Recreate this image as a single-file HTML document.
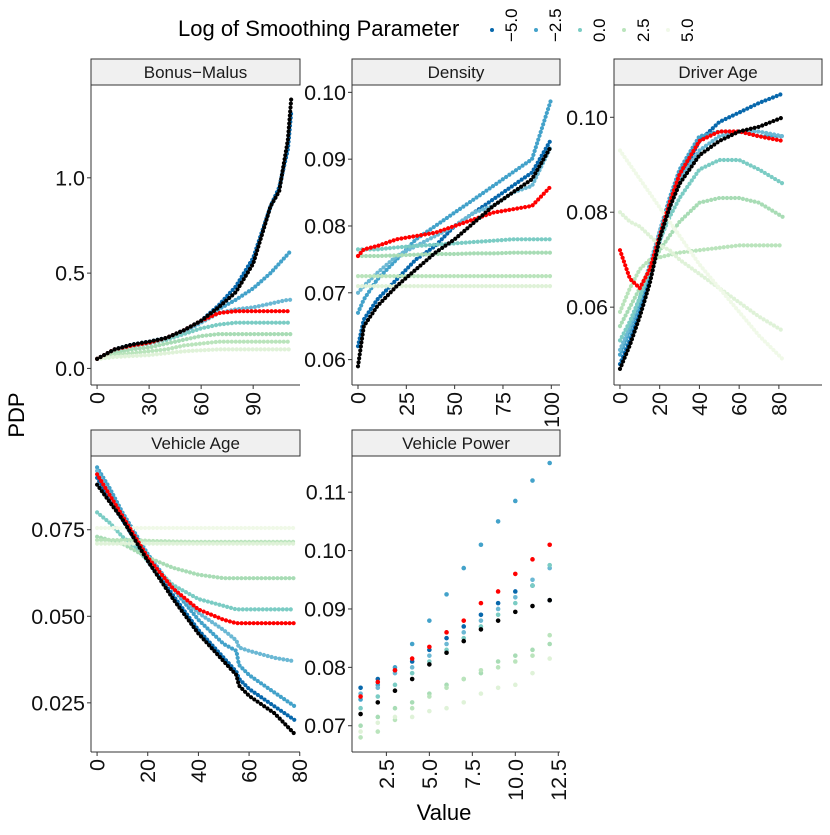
<!DOCTYPE html>
<html><head><meta charset="utf-8"><style>
body{margin:0;background:#fff;font-family:"Liberation Sans",sans-serif}
svg text{font-family:"Liberation Sans",sans-serif}
</style></head><body>
<svg id="c" width="830" height="830" xmlns="http://www.w3.org/2000/svg">
<rect width="830" height="830" fill="#fff"/>
<g>
<text x="178" y="36" font-size="22">Log of Smoothing Parameter</text>
<circle cx="492" cy="30" r="2" fill="#0868ac"/>
<circle cx="536" cy="30" r="2" fill="#43a2ca"/>
<circle cx="580" cy="30" r="2" fill="#7bccc4"/>
<circle cx="624" cy="30" r="2" fill="#bae4bc"/>
<circle cx="668" cy="30" r="2" fill="#f0f9e8"/>
<text transform="translate(517,42) rotate(-90)" font-size="17">−5.0</text>
<text transform="translate(561,42) rotate(-90)" font-size="17">−2.5</text>
<text transform="translate(605,42) rotate(-90)" font-size="17">0.0</text>
<text transform="translate(649,42) rotate(-90)" font-size="17">2.5</text>
<text transform="translate(693,42) rotate(-90)" font-size="17">5.0</text>
</g>
<text transform="translate(24,415) rotate(-90)" font-size="22" text-anchor="middle">PDP</text>
<text x="444" y="820" font-size="22" text-anchor="middle">Value</text>
<g id="panels"></g>
</svg>
<script>
const COLS=["#0868ac","#43a2ca","#6bb8d4","#7bccc4","#a8dcb5","#bae4bc","#dff2d8","#f0f9e8"];
// Bonus-Malus
const bmX=[0,10,20,30,40,50,60,70,80,90,100,105,110,112];
const bmBlack=[0.05,0.10,0.125,0.14,0.16,0.20,0.25,0.32,0.40,0.55,0.85,0.93,1.2,1.42];
const bmRed=[0.05,0.10,0.12,0.135,0.16,0.20,0.25,0.29,0.30,0.30,0.30,0.30,0.30,0.30];
const bmS=[
[0.05,0.10,0.125,0.14,0.16,0.20,0.25,0.33,0.43,0.58,0.85,0.95,1.15,1.35],
[0.05,0.10,0.125,0.14,0.16,0.20,0.25,0.31,0.36,0.42,0.50,0.55,0.60,0.62],
[0.05,0.10,0.12,0.135,0.155,0.19,0.24,0.29,0.31,0.32,0.34,0.35,0.36,0.36],
[0.05,0.09,0.115,0.13,0.15,0.18,0.21,0.23,0.24,0.24,0.24,0.24,0.24,0.24],
[0.05,0.08,0.10,0.11,0.13,0.15,0.17,0.18,0.18,0.18,0.18,0.18,0.18,0.18],
[0.05,0.07,0.08,0.09,0.10,0.12,0.13,0.14,0.14,0.14,0.14,0.14,0.14,0.14],
[0.05,0.06,0.065,0.07,0.08,0.09,0.095,0.10,0.10,0.10,0.10,0.10,0.10,0.10]];
const bmTicks=[0,30,60,90], bmYTicks=[0.0,0.5,1.0], bmYLab=["0.0","0.5","1.0"];
// Density
const dnX=[0,3,10,20,30,40,50,60,70,80,90,100];
const dnBlack=[0.059,0.065,0.068,0.071,0.0735,0.076,0.078,0.0805,0.083,0.085,0.087,0.092];
const dnRed=[0.0755,0.0765,0.077,0.078,0.0785,0.079,0.080,0.081,0.082,0.0825,0.083,0.086];
const dnS=[
[0.062,0.066,0.069,0.072,0.075,0.077,0.080,0.082,0.084,0.086,0.088,0.093],
[0.067,0.069,0.072,0.075,0.078,0.080,0.082,0.084,0.086,0.088,0.090,0.099],
[0.070,0.071,0.073,0.0755,0.077,0.0785,0.080,0.082,0.083,0.085,0.086,0.092],
[0.0765,0.0765,0.0765,0.0768,0.077,0.0772,0.0774,0.0776,0.0778,0.078,0.078,0.078],
[0.0755,0.0755,0.0755,0.0756,0.0757,0.0758,0.0758,0.0759,0.0759,0.076,0.076,0.076],
[0.0725,0.0725,0.0725,0.0725,0.0725,0.0725,0.0725,0.0725,0.0725,0.0725,0.0725,0.0725],
[0.071,0.071,0.071,0.071,0.071,0.071,0.071,0.071,0.071,0.071,0.071,0.071]];
const dnTicks=[0,25,50,75,100], dnYTicks=[0.06,0.07,0.08,0.09,0.10], dnYLab=["0.06","0.07","0.08","0.09","0.10"];
// Driver Age
const daX=[0,5,10,15,20,25,30,40,50,60,70,82];
const daBlack=[0.047,0.052,0.058,0.065,0.0745,0.081,0.086,0.092,0.095,0.097,0.098,0.100];
const daRed=[0.072,0.066,0.064,0.068,0.075,0.082,0.088,0.095,0.097,0.097,0.096,0.095];
const daS=[
[0.048,0.053,0.059,0.066,0.074,0.081,0.087,0.095,0.099,0.101,0.103,0.105],
[0.050,0.055,0.061,0.068,0.076,0.083,0.089,0.096,0.097,0.097,0.096,0.096],
[0.051,0.056,0.062,0.069,0.076,0.082,0.087,0.093,0.096,0.097,0.097,0.096],
[0.053,0.057,0.062,0.068,0.074,0.079,0.083,0.089,0.091,0.091,0.089,0.086],
[0.056,0.060,0.064,0.068,0.072,0.075,0.078,0.082,0.083,0.083,0.082,0.079],
[0.059,0.064,0.068,0.070,0.0705,0.071,0.0715,0.072,0.0725,0.073,0.073,0.073],
[0.080,0.078,0.077,0.075,0.073,0.072,0.070,0.067,0.064,0.061,0.058,0.055],
[0.093,0.090,0.087,0.084,0.081,0.078,0.075,0.069,0.064,0.059,0.054,0.049]];
const daTicks=[0,20,40,60,80], daYTicks=[0.06,0.08,0.10], daYLab=["0.06","0.08","0.10"];
// Vehicle Age
const vaX=[0,5,10,15,20,30,40,50,55,56,60,70,78];
const vaBlack=[0.088,0.083,0.078,0.072,0.066,0.055,0.045,0.037,0.033,0.030,0.027,0.022,0.016];
const vaRed=[0.091,0.085,0.079,0.073,0.067,0.058,0.052,0.049,0.048,0.048,0.048,0.048,0.048];
const vaS=[
[0.090,0.084,0.078,0.072,0.066,0.056,0.046,0.038,0.034,0.032,0.029,0.024,0.020],
[0.093,0.087,0.080,0.074,0.068,0.058,0.049,0.042,0.040,0.036,0.033,0.028,0.024],
[0.092,0.085,0.079,0.073,0.067,0.058,0.051,0.046,0.043,0.041,0.040,0.038,0.037],
[0.080,0.077,0.073,0.070,0.066,0.059,0.055,0.053,0.052,0.052,0.052,0.052,0.052],
[0.073,0.072,0.071,0.069,0.067,0.064,0.062,0.061,0.061,0.061,0.061,0.061,0.061],
[0.072,0.072,0.072,0.072,0.0718,0.0716,0.0715,0.0715,0.0715,0.0715,0.0715,0.0715,0.0715],
[0.071,0.071,0.071,0.071,0.071,0.071,0.071,0.071,0.071,0.071,0.071,0.071,0.071],
[0.0755,0.0755,0.0755,0.0755,0.0755,0.0755,0.0755,0.0755,0.0755,0.0755,0.0755,0.0755,0.0755]];
const vaTicks=[0,20,40,60,80], vaYTicks=[0.025,0.05,0.075], vaYLab=["0.025","0.050","0.075"];
// Vehicle Power
const vpX=[1,2,3,4,5,6,7,8,9,10,11,12];
const vpBlack=[0.072,0.074,0.076,0.078,0.0805,0.0825,0.0845,0.0865,0.088,0.0895,0.0905,0.0915];
const vpRed=[0.075,0.0775,0.0795,0.0815,0.0835,0.086,0.088,0.091,0.093,0.096,0.0985,0.101];
const vpS=[
[0.0765,0.078,0.0795,0.081,0.083,0.085,0.087,0.089,0.091,0.093,0.094,0.0915],
[0.0745,0.077,0.080,0.084,0.088,0.0925,0.097,0.101,0.105,0.1085,0.112,0.115],
[0.0755,0.0765,0.079,0.080,0.082,0.084,0.086,0.088,0.090,0.092,0.095,0.097],
[0.073,0.075,0.077,0.079,0.081,0.083,0.085,0.087,0.089,0.091,0.094,0.0975],
[0.070,0.0715,0.073,0.074,0.0755,0.077,0.078,0.079,0.081,0.082,0.083,0.084],
[0.068,0.069,0.071,0.073,0.075,0.0765,0.078,0.0795,0.080,0.081,0.082,0.0855],
[0.069,0.0705,0.0715,0.0715,0.0725,0.073,0.074,0.0755,0.0765,0.077,0.079,0.0815]];
const vpTicks=[2.5,5,7.5,10,12.5], vpYTicks=[0.07,0.08,0.09,0.10,0.11], vpYLab=["0.07","0.08","0.09","0.10","0.11"];

const NS="http://www.w3.org/2000/svg";
const root=document.getElementById('panels');
function mk(tag,at,parent){const e=document.createElementNS(NS,tag);for(const k in at)e.setAttribute(k,at[k]);(parent||root).appendChild(e);return e;}

function panel(name,box,xd,yd,xs,series,red,black,xt,yt,ylab,xlabFmt,dense){
  const g=mk('g',{});
  
  
  const [L,T,R,B]=box;
  const sx=v=>L+(v-xd[0])/(xd[1]-xd[0])*(R-L);
  const sy=v=>B-(v-yd[0])/(yd[1]-yd[0])*(B-T);
  const strip=mk('rect',{x:L,y:T-26,width:R-L,height:26,fill:'#f0f0f0',stroke:'#333','stroke-width':1},g);
  
  
  const st=mk('text',{x:(L+R)/2,y:T-7,'font-size':17,'text-anchor':'middle',fill:'#1a1a1a'},g);
  st.textContent=name;
  
  
  mk('line',{x1:L,y1:T,x2:L,y2:B,stroke:'#333'},g);
  mk('line',{x1:L,y1:B,x2:R,y2:B,stroke:'#333'},g);
  yt.forEach((v,i)=>{
    const y=sy(v);
    mk('line',{x1:L-4,y1:y,x2:L,y2:y,stroke:'#333'},g);
    const t=mk('text',{x:L-6,y:y+7.5,'font-size':21.5,'text-anchor':'end',fill:'#111'},g);
    t.textContent=ylab[i];
    
    
  });
  xt.forEach(v=>{
    const x=sx(v);
    mk('line',{x1:x,y1:B,x2:x,y2:B+4,stroke:'#333'},g);
    const t=mk('text',{transform:`translate(${x+7.5},${B+7}) rotate(-90)`,'font-size':21.5,'text-anchor':'end',fill:'#111'},g);
    t.textContent=xlabFmt(v);
    
    
  });
  const all=series.map((s,i)=>[s,COLS[i]]);
  all.push([red,'#ff0000']);all.push([black,'#000000']);
  all.forEach(([s,c],i)=>{
    if(dense){
      const d=s.map((v,j)=>(j?'L':'M')+sx(xs[j]).toFixed(1)+','+sy(v).toFixed(1)).join(' ');
      const p=mk('path',{d:d,fill:'none',stroke:c,'stroke-width':4.2,'stroke-linecap':'round','stroke-dasharray':'0 4'},g);
      
      
    } else {
      s.forEach((v,j)=>{
        const ci=mk('circle',{cx:sx(xs[j]),cy:sy(v),r:2.3,fill:c},g);
        
        
      });
    }
  });
}
const f0=v=>String(v), f1=v=>v.toFixed(1);
panel('Bonus\u2212Malus',[91,85,300,385],[-3.5,117],[-0.087,1.487],bmX,bmS,bmRed,bmBlack,bmTicks,bmYTicks,bmYLab,f0,true);
panel('Density',[352,85,560,385],[-3.1,104.5],[0.0562,0.1011],dnX,dnS,dnRed,dnBlack,dnTicks,dnYTicks,dnYLab,f0,true);
panel('Driver Age',[614,85,822,385],[-3,82+(822-782)/2.03],[0.0436,0.1068],daX,daS,daRed,daBlack,daTicks,daYTicks,daYLab,f0,true);
panel('Vehicle Age',[91,456,300,752],[-2.4,80.1],[0.0108,0.0963],vaX,vaS,vaRed,vaBlack,vaTicks,vaYTicks,vaYLab,f0,true);
panel('Vehicle Power',[352,456,560,752],[0.5,12.6],[0.0655,0.1162],vpX,vpS,vpRed,vpBlack,vpTicks,vpYTicks,vpYLab,f1,false);
</script>
</body></html>
